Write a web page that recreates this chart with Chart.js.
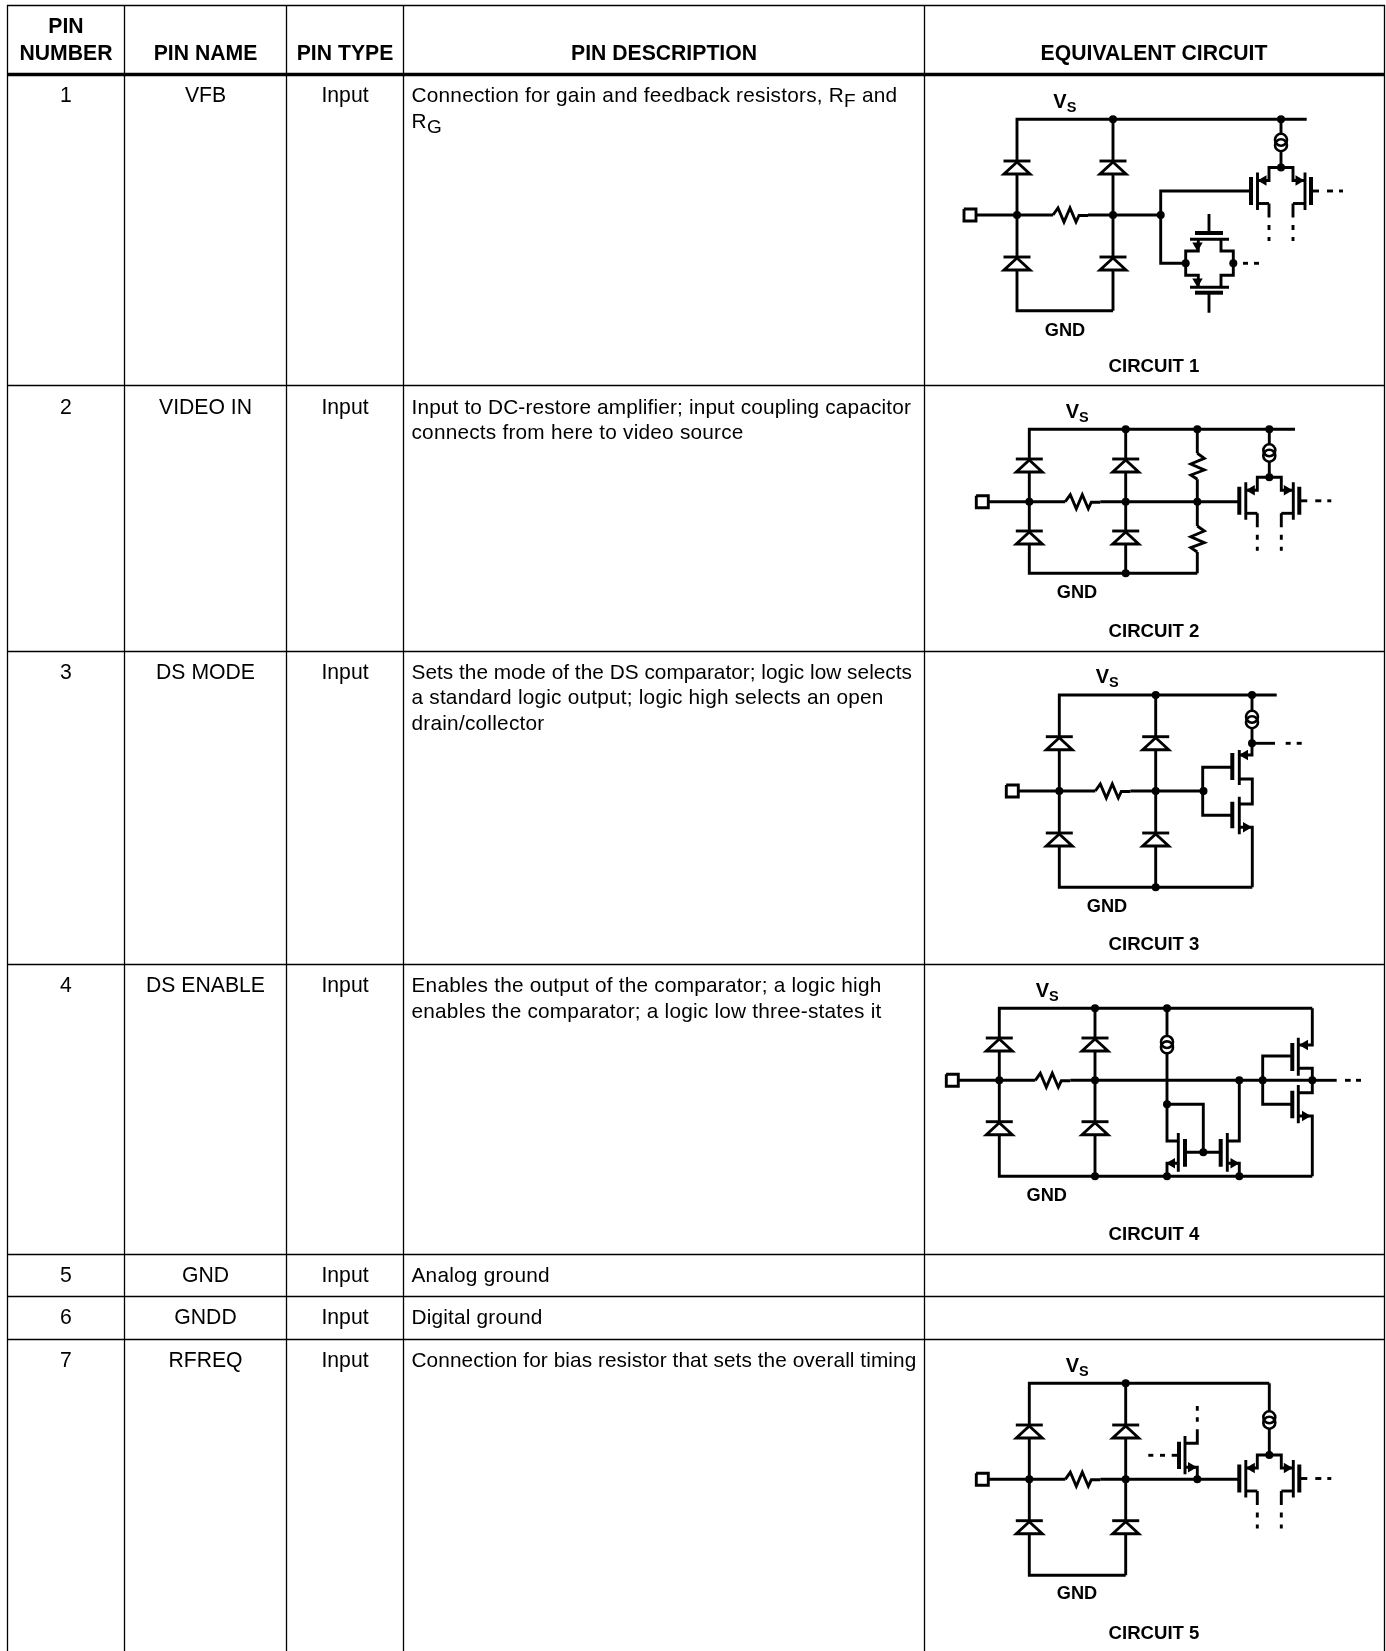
<!DOCTYPE html>
<html>
<head>
<meta charset="utf-8">
<title>Pin descriptions</title>
<script src="https://cdn.jsdelivr.net/npm/chart.js@4/dist/chart.umd.min.js"></script>
<style>
    html, body { margin: 0; padding: 0; background: #fff; }
    canvas { display: block; }
</style>
</head>
<body>
<canvas id="pin-table" width="1386" height="1651"></canvas>
<script>
// table text
const headerTop = ['PIN'];
const headerLabels = ['NUMBER', 'PIN NAME', 'PIN TYPE', 'PIN DESCRIPTION', 'EQUIVALENT CIRCUIT'];
const pinNumbers = ['1', '2', '3', '4', '5', '6', '7'];
const pinNames = ['VFB', 'VIDEO IN', 'DS MODE', 'DS ENABLE', 'GND', 'GNDD', 'RFREQ'];
const pinTypes = ['Input', 'Input', 'Input', 'Input', 'Input', 'Input', 'Input'];
const pinDescriptions = [
    ['Connection for gain and feedback resistors, R~F~ and', 'R~G~'],
    ['Input to DC-restore amplifier; input coupling capacitor', 'connects from here to video source'],
    ['Sets the mode of the DS comparator; logic low selects', 'a standard logic output; logic high selects an open', 'drain/collector'],
    ['Enables the output of the comparator; a logic high', 'enables the comparator; a logic low three-states it'],
    ['Analog ground'],
    ['Digital ground'],
    ['Connection for bias resistor that sets the overall timing'],
];
// where each description line ends in the reference, the text is spaced to fit
const descriptionEnds = [
    [897.3, 442.3],
    [911, 743.6],
    [912, 883.6, 544.5],
    [881.5, 881.5],
    [549.8],
    [542.4],
    [916.3],
];
const rowBaselines = [102, 413.7, 678.5, 992, 1281.5, 1323.5, 1367];
const circuitLabels = ['CIRCUIT 1', 'CIRCUIT 2', 'CIRCUIT 3', 'CIRCUIT 4', 'CIRCUIT 5'];
const circuitLabelY = [371.7, 636.7, 950, 1240, 1639];
const gndX = [1065, 1077, 1107, 1046.7, 1077];
const gndY = [335.7, 598.3, 911.7, 1200.7, 1599.3];
const vsX = [1053.3, 1065.7, 1095.7, 1035.7, 1065.7];
const vsY = [108.3, 418.3, 683.3, 997.3, 1372.3];

// table rules
const columnLines = [7.5, 124.5, 286.5, 403.5, 924.5, 1384.5];
const columnCentres = [66, 205.5, 345, 664, 1154];
const rowLines = [5.5, 385.5, 651.5, 964.5, 1254.5, 1296.5, 1339.5];
const headerRuleY = 74.5;

// the diode bridge every circuit starts with
const bridgeLeft = [1017, 1029.3, 1059.3, 999.3, 1029.3];
const bridgeRight = [1113, 1125.7, 1155.7, 1095, 1125.7];
const railTop = [119.3, 429.3, 695, 1008.3, 1383.3];
const railMid = [215, 501.7, 791, 1080.3, 1479.3];
const railBottom = [310.7, 573.3, 887.3, 1176.3, 1575.3];
const upperDiode = [161, 459, 736.7, 1038, 1425];
const lowerDiode = [257, 531, 833, 1121.7, 1520.7];
const railTopEnd = [1306.7, 1295, 1276.7, 1312.3, 1269.3];
const railMidEnd = [1160.7, 1239, 1202.7, 1312.3, 1239];
const railBottomEnd = [1113, 1197.3, 1252.3, 1312.3, 1125.7];

// symbol outlines, relative to where they are placed
const diodeBar = [[-13.5, 0], [13.5, 0]];
const diodeTriangle = [[0, 1], [13, 13], [-13, 13], [0, 1]];
const diodeDepth = 13;
const pinSquare = [[-6.2, -6], [6, -6], [6, 6], [-6, 6], [-6, -6]];
const resistorAcross = [[0, 0], [5, -7], [11, 7], [17, -7], [23, 7], [26, 0.5], [35, 0.5]];
const resistorDown = [[0, 0], [7, 5], [-6.5, 10.7], [7, 16.7], [-6.5, 21.7], [0, 26]];
const pairWires = [
    [[-12, 36], [-23.5, 36]], [[-12, 36], [-12, 50]],
    [[12, 36], [23.5, 36]], [[12, 36], [12, 50]],
    [[-23.5, 13], [-12, 13], [-12, 0], [12, 0], [12, 13], [23.5, 13]],
    [[-12, 57.5], [-12, 62.5]], [[-12, 69.5], [-12, 73.5]],
    [[12, 57.5], [12, 62.5]], [[12, 69.5], [12, 73.5]],
    [[30, 23.5], [38, 23.5]], [[46, 23.5], [52, 23.5]], [[58, 23.5], [62, 23.5]],
];
const pairChannels = [[[-23.5, 5], [-23.5, 42.5]], [[24, 5], [24, 42.5]]];
const pairGates = [[[-30, 9.5], [-30, 37.5]], [[30, 9.5], [30, 37.5]]];
const pairArrows = [[-17.5, 13, -90], [17.5, 13, 90]];
const pairCentres = [[1281, 167.5], [1269.3, 477.3], [1269.3, 1455]];

// current sources: x, centre y
const currentSources = [[1281, 142.5], [1269.3, 453], [1252, 719.5], [1167, 1044.7], [1269.3, 1420]];
const sourceCircleGap = 2.7;

// remaining connections, one list per circuit
const circuit1Wires = [
    [[1281, 119.3], [1281, 133]], [[1281, 152], [1281, 167.5]],
    [[1160.7, 215], [1160.7, 191], [1251.3, 191]],
    [[1160.7, 215], [1160.7, 263.3], [1185.7, 263.3]],
    [[1209, 214], [1209, 233]], [[1209, 292.7], [1209, 312.7]],
    [[1198.3, 239.3], [1198.3, 251], [1185.7, 251], [1185.7, 275.3], [1198.3, 275.3], [1198.3, 287.3]],
    [[1221, 239.3], [1221, 251], [1233.3, 251], [1233.3, 275.3], [1221, 275.3], [1221, 287.3]],
    [[1190, 239.3], [1229, 239.3]], [[1190, 287.3], [1229, 287.3]],
    [[1243, 263.3], [1248, 263.3]], [[1254, 263.3], [1259, 263.3]],
];
const circuit1Gates = [[[1195, 233], [1223, 233]], [[1195, 292.7], [1223, 292.7]]];
const circuit1Nodes = [[1281, 119.3], [1281, 167.5], [1160.7, 215], [1185.7, 263.3], [1233.3, 263.3]];
const circuit1Arrows = [[1197.5, 245.5, 180], [1197.5, 281.5, 180]];

const circuit2Wires = [
    [[1269.3, 429.3], [1269.3, 444]], [[1269.3, 462], [1269.3, 477.3]],
    [[1197.3, 429.3], [1197.3, 453.3]], [[1197.3, 479.3], [1197.3, 526]],
    [[1197.3, 552], [1197.3, 573.3]],
];
const circuit2Resistors = [[1197.3, 453.3], [1197.3, 526]];
const circuit2Nodes = [[1197.3, 429.3], [1269.3, 429.3], [1269.3, 477.3], [1197.3, 501.7], [1125.7, 573.3]];

const circuit3Wires = [
    [[1252, 695], [1252, 711]], [[1252, 728], [1252, 755], [1239.3, 755]],
    [[1252, 743.3], [1275, 743.3]], [[1285.7, 743.3], [1290.7, 743.3]], [[1296.7, 743.3], [1301.7, 743.3]],
    [[1232.3, 767.3], [1202.7, 767.3], [1202.7, 815.3], [1232.3, 815.3]],
    [[1239.3, 779], [1252.3, 779], [1252.3, 804], [1239.3, 804]],
    [[1239.3, 827.3], [1252.3, 827.3], [1252.3, 887.3]],
];
const circuit3Channels = [[[1239.3, 750], [1239.3, 785]], [[1239.3, 796.7], [1239.3, 834.3]]];
const circuit3Gates = [[[1232.3, 753], [1232.3, 780]], [[1232.3, 801.7], [1232.3, 828.3]]];
const circuit3Nodes = [[1252, 695], [1252, 743.3], [1203.5, 791], [1155.7, 887.3]];
const circuit3Arrows = [[1245, 755, -90], [1246, 827.3, 90]];

const circuit4Wires = [
    [[1167, 1008.3], [1167, 1036]], [[1167, 1053.3], [1167, 1141], [1178.3, 1141]],
    [[1167, 1104.3], [1203.3, 1104.3], [1203.3, 1152.3]],
    [[1185, 1152.3], [1220.7, 1152.3]],
    [[1178.3, 1163.3], [1167, 1163.3], [1167, 1176.3]],
    [[1227.3, 1163.3], [1239.3, 1163.3], [1239.3, 1176.3]],
    [[1227.3, 1141], [1239.3, 1141], [1239.3, 1080.3]],
    [[1312.3, 1008.3], [1312.3, 1045], [1298.3, 1045]],
    [[1298.3, 1068.3], [1312.3, 1068.3], [1312.3, 1092.7], [1298.3, 1092.7]],
    [[1298.3, 1116], [1312.3, 1116], [1312.3, 1176.3]],
    [[1292.3, 1056], [1262.7, 1056], [1262.7, 1104.3], [1292.3, 1104.3]],
    [[1312.3, 1080.3], [1336.7, 1080.3]], [[1345, 1080.3], [1350.7, 1080.3]], [[1356, 1080.3], [1361, 1080.3]],
];
const circuit4Channels = [
    [[1178.3, 1133], [1178.3, 1171.7]], [[1227.3, 1133], [1227.3, 1171.7]],
    [[1298.3, 1037.7], [1298.3, 1075.7]], [[1298.3, 1085], [1298.3, 1123.3]],
];
const circuit4Gates = [
    [[1185, 1139], [1185, 1166.7]], [[1220.7, 1139], [1220.7, 1166.7]],
    [[1292.3, 1043], [1292.3, 1071]], [[1292.3, 1090.7], [1292.3, 1118.3]],
];
const circuit4Nodes = [
    [1167, 1008.3], [1167, 1104.3], [1203.3, 1152.3], [1239.3, 1080.3], [1262.7, 1080.3],
    [1312.3, 1080.3], [1095, 1176.3], [1167, 1176.3], [1239.3, 1176.3],
];
const circuit4Arrows = [[1305, 1045, -90], [1305, 1116, 90], [1172, 1163.3, -90], [1233.5, 1163.3, 90]];

const circuit5Wires = [
    [[1269.3, 1383.3], [1269.3, 1411]], [[1269.3, 1429], [1269.3, 1455]],
    [[1185, 1443.3], [1197.3, 1443.3], [1197.3, 1429.3]],
    [[1197.3, 1417.3], [1197.3, 1421.7]], [[1197.3, 1406], [1197.3, 1410.7]],
    [[1185, 1467.3], [1197.3, 1467.3], [1197.3, 1479.3]],
    [[1171.7, 1455.3], [1179, 1455.3]], [[1160, 1455.3], [1165, 1455.3]], [[1148.3, 1455.3], [1153.3, 1455.3]],
];
const circuit5Channels = [[[1185, 1436], [1185, 1474.3]]];
const circuit5Gates = [[[1179, 1441.7], [1179, 1469]]];
const circuit5Nodes = [[1269.3, 1455], [1197.3, 1479.3]];
const circuit5Arrows = [[1191, 1467.3, 90]];

const INK = '#000';
const WIRE_WIDTH = 2.9;
const CHANNEL_WIDTH = 2.9;
const GATE_WIDTH = 4;
const RULE_WIDTH = 1.3;
const BODY_FONT = '"Liberation Sans", Arial, sans-serif';

function place(shape, dx, dy) {
    return shape.map(p => [p[0] + dx, p[1] + dy]);
}

function lineDataset(points, width) {
    return {
        type: 'scatter',
        data: points.map(p => ({ x: p[0], y: p[1] })),
        showLine: true,
        borderColor: INK,
        borderWidth: width,
        borderCapStyle: 'butt',
        borderJoinStyle: 'miter',
        pointRadius: 0,
        tension: 0,
        clip: false,
    };
}

function buildLines() {
    const rules = [];
    const wires = [];
    const channels = [];
    const gates = [];

    for (let x of columnLines) rules.push([[x, 5], [x, 1651]]);
    for (let y of rowLines) rules.push([[7, y], [1385, y]]);

    for (let i = 0; i < bridgeLeft.length; i++) {
        const xL = bridgeLeft[i];
        const xR = bridgeRight[i];
        const pinX = xL - 47;
        const resistorX = xL + 36;

        wires.push([[xL, upperDiode[i]], [xL, railTop[i]], [railTopEnd[i], railTop[i]]]);
        wires.push([[xR, railTop[i]], [xR, upperDiode[i]]]);
        wires.push([[xL, upperDiode[i] + diodeDepth], [xL, lowerDiode[i]]]);
        wires.push([[xR, upperDiode[i] + diodeDepth], [xR, lowerDiode[i]]]);
        wires.push([[xL, lowerDiode[i] + diodeDepth], [xL, railBottom[i]], [railBottomEnd[i], railBottom[i]]]);
        wires.push([[xR, lowerDiode[i] + diodeDepth], [xR, railBottom[i]]]);
        wires.push(place(pinSquare, pinX, railMid[i]));
        wires.push([[pinX + 6, railMid[i]], [resistorX, railMid[i]]]);
        wires.push(place(resistorAcross, resistorX, railMid[i]));
        wires.push([[resistorX + 35, railMid[i]], [railMidEnd[i], railMid[i]]]);

        for (let x of [xL, xR]) {
            for (let y of [upperDiode[i], lowerDiode[i]]) {
                wires.push(place(diodeBar, x, y));
                wires.push(place(diodeTriangle, x, y));
            }
        }
    }

    for (let c of pairCentres) {
        for (let w of pairWires) wires.push(place(w, c[0], c[1]));
        for (let w of pairChannels) channels.push(place(w, c[0], c[1]));
        for (let w of pairGates) gates.push(place(w, c[0], c[1]));
    }

    for (let r of circuit2Resistors) wires.push(place(resistorDown, r[0], r[1]));

    wires.push(...circuit1Wires, ...circuit2Wires, ...circuit3Wires, ...circuit4Wires, ...circuit5Wires);
    channels.push(...circuit3Channels, ...circuit4Channels, ...circuit5Channels);
    gates.push(...circuit1Gates, ...circuit3Gates, ...circuit4Gates, ...circuit5Gates);

    return [
        ...rules.map(r => lineDataset(r, RULE_WIDTH)),
        lineDataset([[7, headerRuleY], [1385, headerRuleY]], 3.3),
        ...wires.map(w => lineDataset(w, WIRE_WIDTH)),
        ...channels.map(w => lineDataset(w, CHANNEL_WIDTH)),
        ...gates.map(w => lineDataset(w, GATE_WIDTH)),
    ];
}

function nodesDataset() {
    const nodes = [...circuit1Nodes, ...circuit2Nodes, ...circuit3Nodes, ...circuit4Nodes, ...circuit5Nodes];
    for (let i = 0; i < bridgeLeft.length; i++) {
        nodes.push([bridgeLeft[i], railMid[i]], [bridgeRight[i], railMid[i]], [bridgeRight[i], railTop[i]]);
    }
    return {
        type: 'scatter',
        data: nodes.map(p => ({ x: p[0], y: p[1] })),
        pointRadius: 4,
        pointBackgroundColor: INK,
        pointBorderWidth: 0,
        clip: false,
    };
}

function arrowsDataset() {
    const arrows = [...circuit1Arrows, ...circuit3Arrows, ...circuit4Arrows, ...circuit5Arrows];
    for (let c of pairCentres) {
        for (let a of pairArrows) arrows.push([a[0] + c[0], a[1] + c[1], a[2]]);
    }
    return {
        type: 'scatter',
        data: arrows.map(a => ({ x: a[0], y: a[1] })),
        pointStyle: 'triangle',
        pointRadius: 6,
        pointRotation: arrows.map(a => a[2]),
        pointBackgroundColor: INK,
        pointBorderWidth: 0,
        clip: false,
    };
}

function sourcesDataset() {
    const circles = [];
    for (let s of currentSources) {
        circles.push({ x: s[0], y: s[1] - sourceCircleGap }, { x: s[0], y: s[1] + sourceCircleGap });
    }
    return {
        type: 'scatter',
        data: circles,
        pointRadius: 6,
        pointBackgroundColor: 'rgba(0,0,0,0)',
        pointBorderColor: INK,
        pointBorderWidth: 2.6,
        clip: false,
    };
}

// ~x~ marks a subscript, e.g. R~F~
function drawRuns(ctx, text, x, y, size, weight, subSize, subDrop, endX) {
    const parts = text.split('~');
    const fontFor = i => `${weight} ${i % 2 === 1 ? subSize : size}px ${BODY_FONT}`;
    let spacing = 0;
    if (endX) {
        let natural = 0;
        let chars = 0;
        parts.forEach((part, i) => {
            ctx.font = fontFor(i);
            natural += ctx.measureText(part).width;
            chars += part.length;
        });
        spacing = (endX - x - natural) / chars;
    }
    ctx.textAlign = 'left';
    ctx.textBaseline = 'alphabetic';
    ctx.letterSpacing = `${spacing}px`;
    parts.forEach((part, i) => {
        ctx.font = fontFor(i);
        ctx.fillText(part, x, i % 2 === 1 ? y + subDrop : y);
        x += ctx.measureText(part).width;
    });
    ctx.letterSpacing = '0px';
}

const tableText = {
    id: 'tableText',
    afterDatasetsDraw(chart) {
        const ctx = chart.ctx;
        const sx = chart.scales.x;
        const sy = chart.scales.y;
        const centred = (text, x, y, font) => {
            ctx.font = font;
            ctx.textAlign = 'center';
            ctx.textBaseline = 'alphabetic';
            ctx.fillText(text, sx.getPixelForValue(x), sy.getPixelForValue(y));
        };
        const bodyFont = `21.2px ${BODY_FONT}`;
        const headFont = `bold 21.2px ${BODY_FONT}`;
        const gndFont = `bold 18.2px ${BODY_FONT}`;
        const labelFont = `bold 18.6px ${BODY_FONT}`;

        ctx.save();
        ctx.fillStyle = INK;

        centred(headerTop[0], columnCentres[0], 33, headFont);
        headerLabels.forEach((label, i) => centred(label, columnCentres[i], 60, headFont));

        rowBaselines.forEach((y, i) => {
            centred(pinNumbers[i], columnCentres[0], y, bodyFont);
            centred(pinNames[i], columnCentres[1], y, bodyFont);
            centred(pinTypes[i], columnCentres[2], y, bodyFont);
            pinDescriptions[i].forEach((line, j) => {
                drawRuns(ctx, line, sx.getPixelForValue(411.5), sy.getPixelForValue(y + j * 25.6), 20.8, 'normal', 19, 5, descriptionEnds[i][j]);
            });
        });

        circuitLabels.forEach((label, i) => {
            centred(label, columnCentres[4], circuitLabelY[i], labelFont);
            centred('GND', gndX[i], gndY[i], gndFont);
            drawRuns(ctx, 'V~S~', sx.getPixelForValue(vsX[i]), sy.getPixelForValue(vsY[i]), 20, 'bold', 14.5, 3.5);
        });
        ctx.restore();
    },
};

new Chart(document.getElementById('pin-table').getContext('2d'), {
    type: 'scatter',
    data: { datasets: [...buildLines(), sourcesDataset(), nodesDataset(), arrowsDataset()] },
    options: {
        responsive: false,
        animation: false,
        events: [],
        layout: { padding: 0, autoPadding: false },
        scales: {
            x: { type: 'linear', min: 0, max: 1386, display: false },
            y: { type: 'linear', min: 0, max: 1651, reverse: true, display: false },
        },
        plugins: {
            legend: { display: false },
            tooltip: { enabled: false },
        },
    },
    plugins: [tableText],
});
</script>
</body>
</html>
